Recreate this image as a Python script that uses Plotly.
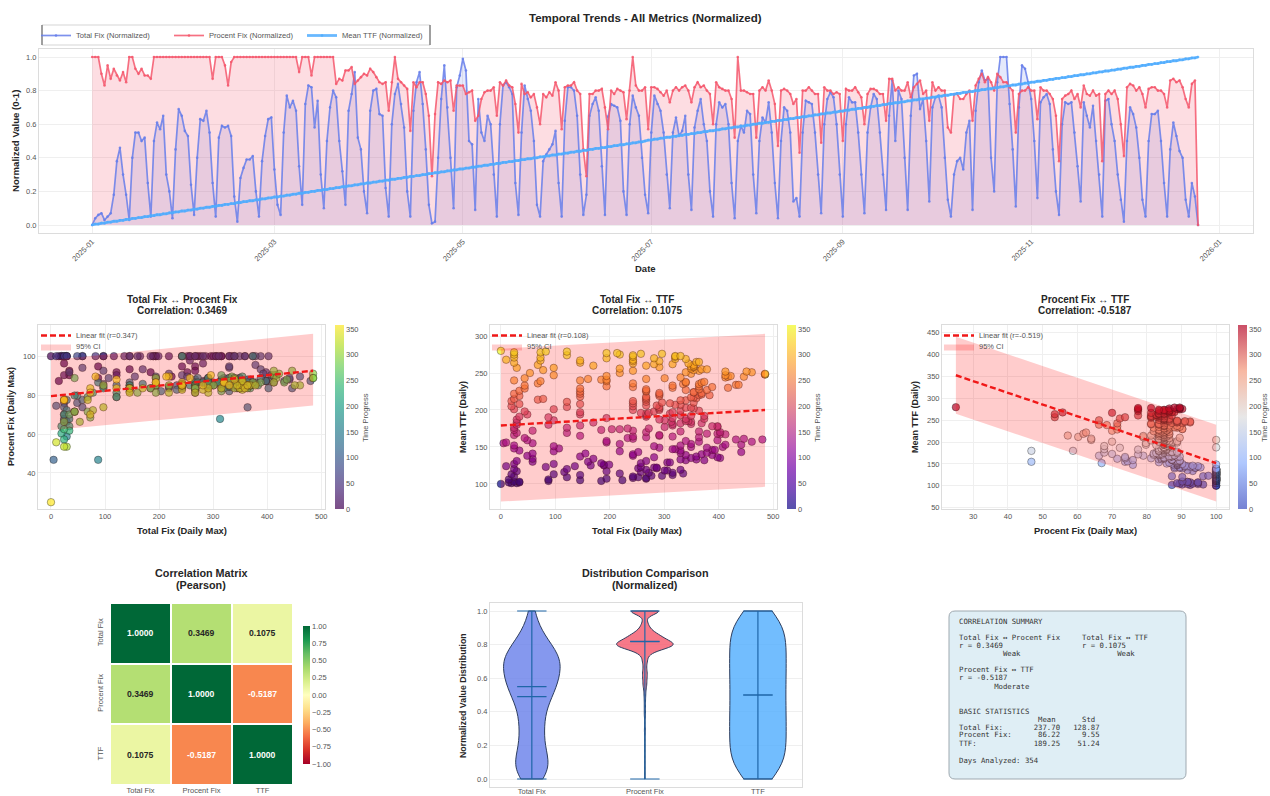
import numpy as np
import pandas as pd
import plotly.graph_objects as go
import plotly.express as px

W, H = 1270, 796

total_norm = [
 0,.04,.06,.07,.03,.05,.07,.18,.38,.46,.30,.18,.03,
 .40,.55,.55,.50,.52,.25,.05,
 .50,.61,.57,.65,.30,.20,.04,
 .45,.69,.65,.56,.53,.24,.06,
 .40,.63,.62,.68,.55,.25,.05,
 .52,.59,.58,.59,.53,.17,.02,
 .28,.34,.39,.39,.41,.20,.05,
 .38,.53,.63,.64,.33,.12,.06,
 .55,.77,.70,.74,.68,.35,.12,
 .72,.83,.82,.58,.74,.30,.10,
 .50,.70,.80,.76,.50,.32,.12,
 .68,.78,.91,.52,.45,.20,.07,
 .68,.80,.81,.66,.65,.22,.05,
 .60,.78,.84,.72,.58,.20,.05,
 .68,.85,.91,.72,.45,.12,.01,
 .02,.40,.75,.95,.70,.40,.10,
 .82,.89,.99,.92,.50,.48,.09,
 .75,.55,.50,.65,.60,.30,.05,
 .60,.83,.85,.82,.78,.25,.06,
 .55,.83,.75,.68,.50,.12,.05,
 .38,.42,.45,.48,.56,.25,.05,
 .62,.82,.82,.80,.65,.30,.06,
 .18,.65,.72,.76,.68,.35,.06,
 .645,.72,.71,.70,.62,.20,.06,
 .60,.77,.70,.65,.40,.18,.07,
 .55,.77,.72,.68,.55,.30,.10,
 .55,.64,.53,.56,.65,.30,.09,
 .58,.68,.75,.60,.50,.20,.05,
 .60,.73,.70,.72,.60,.25,.04,
 .50,.59,.55,.68,.66,.30,.07,
 .50,.64,.61,.73,.55,.25,.04,
 .50,.70,.68,.55,.14,.16,.05,
 .55,.74,.73,.72,.55,.30,.07,
 .60,.75,.79,.76,.60,.30,.05,
 .60,.76,.73,.73,.55,.30,.07,
 .55,.70,.78,.75,.55,.30,.09,
 .65,.86,.50,.80,.75,.40,.09,
 .65,.89,.90,.69,.75,.50,.14,
 .70,.76,.77,.70,.40,.15,.05,
 .30,.38,.40,.33,.55,.62,.09,
 .68,.85,.92,.86,.87,.40,.20,
 .85,1.0,1.0,1.0,.72,.45,.11,
 .70,.95,.93,.85,.75,.50,.16,
 .73,.76,.78,.72,.45,.20,.06,
 .60,.73,.72,.73,.55,.35,.14,
 .73,.65,.58,.71,.50,.30,.05,
 .74,.75,.60,.50,.30,.15,.02,
 .50,.70,.66,.58,.40,.15,.05,
 .50,.66,.66,.68,.50,.25,.05,
 .45,.61,.53,.44,.40,.15,.05,
 .25,.17,0,
]

percent_norm = [
 1,1,1,.90,.83,.95,.87,.93,.89,.86,.91,.85,1,1,.93,.90,.93,.89,.89,.87,
 1,1,1,1,1,1,1,1,1,1,1,1,1,1,1,1,1,1,1,
 .87,1,1,1,.95,.83,.97,
 1,1,1,1,1,1,1,1,1,1,1,1,1,1,1,1,1,1,1,1,1,
 .91,1,1,1,.89,1,
 1,1,1,1,1,1,
 .84,.87,.86,.92,.92,.94,.84,.86,.88,.90,.89,.93,.91,.88,.85,.84,.85,.68,
 .85,1.0,.87,.85,.83,.81,.56,
 .85,.82,.85,.85,.78,.65,.29,
 .66,.85,.84,.86,.85,.86,.68,
 .83,.83,.83,.78,.79,.80,.62,
 .65,.75,.79,.80,.80,.82,.65,
 .85,.83,.86,.83,.82,.72,.55,
 .84,.78,.79,.76,.78,.70,.60,
 .78,.76,.79,.77,.85,.80,.57,
 .82,.83,.83,.85,.80,.78,.45,
 .29,.78,.78,.80,.80,.81,.70,
 .57,.80,.78,.81,.80,.79,.63,
 .80,1.0,.83,.80,.80,.82,.57,
 .82,.82,.81,.79,.77,.80,.73,
 .80,.82,.80,.82,.83,.80,.73,
 .82,.85,.82,.83,.80,.78,.60,
 .85,.82,.81,.80,.80,.75,.52,
 1.0,.80,.80,.79,.78,.78,.52,
 .80,.82,.80,.86,.80,.72,.47,
 .80,.81,.80,.78,.72,.75,.43,
 .80,.80,.82,.80,.78,.78,.49,
 .82,.80,.80,.78,.79,.78,.50,
 .81,.80,.80,.82,.79,.76,.60,
 .78,.81,.81,.80,.78,.78,.62,
 .87,.87,.80,.82,.80,.80,.85,
 .76,.82,.84,.86,.78,.80,.62,
 .85,.80,.82,.80,.80,.58,.55,
 .78,.78,.75,.75,.78,.80,.62,
 .83,.87,.90,.85,.88,.85,.80,
 .90,.88,.85,.85,.82,.80,.55,
 .78,.80,.80,.82,.80,.80,.63,
 .82,.80,.80,.78,.75,.65,.38,
 .75,.77,.78,.80,.75,.78,.70,
 .83,.78,.77,.80,.77,.78,.38,
 .78,.80,.78,.80,.75,.60,.41,
 .82,.84,.83,.80,.82,.78,.70,
 .81,.82,.82,.80,.80,.78,.70,
 .86,.87,.85,.86,.82,.75,.70,
 .84,.86,0,
]

mean_ttf = [
 100,101,101,102,102,103,103,104,104,105,105,106,106,107,107,108,108,109,109,110,
 110,111,111,112,112,113,113,114,114,115,115,116,116,117,117,118,118,119,119,120,
 120,121,121,122,122,123,123,124,124,125,125,126,126,127,127,128,128,129,129,130,
 130,131,131,132,132,133,133,134,134,135,135,136,136,137,137,138,138,139,139,140,
 140,141,141,142,142,143,143,144,144,145,145,146,146,147,147,148,148,149,149,150,
 150,151,151,152,152,153,153,154,154,155,155,156,156,157,157,158,158,159,159,160,
 160,161,161,162,162,163,163,164,164,165,165,166,166,167,167,168,168,169,169,170,
 170,171,171,172,172,173,173,174,174,175,175,176,176,177,177,178,178,179,179,180,
 180,181,181,182,182,183,183,184,184,185,185,186,186,187,187,188,188,189,189,190,
 191,191,192,192,193,193,194,194,195,195,196,196,197,197,198,198,199,199,200,200,
 201,201,202,202,203,203,204,204,205,205,206,206,207,207,208,208,209,209,210,210,
 211,211,212,212,213,213,214,214,215,215,216,216,217,217,218,218,219,219,220,220,
 221,221,222,222,223,223,224,224,225,225,226,226,227,227,228,228,229,229,230,230,
 231,231,232,232,233,233,234,234,235,235,236,236,237,237,238,238,239,239,240,240,
 241,241,242,242,243,243,244,244,245,245,246,246,247,247,248,248,249,249,250,250,
 251,251,252,252,253,253,254,254,255,255,256,256,257,257,258,258,259,259,260,260,
 261,261,262,262,263,263,264,264,265,265,266,266,267,267,268,268,269,269,270,270,
 271,271,272,272,273,273,274,274,275,275,276,276,277,277,278,278,279,279,280,
]

if not (len(total_norm) == len(percent_norm) == len(mean_ttf)):
    raise SystemExit(f"{len(total_norm)} {len(percent_norm)} {len(mean_ttf)}")

TOTAL_MAX = 485
PCT_MIN = 25
start_date = "2025-01-01"
metrics = ["Total Fix", "Procent Fix", "TTF"]
corr = [[1.0, 0.3469, 0.1075], [0.3469, 1.0, -0.5187], [0.1075, -0.5187, 1.0]]

fit1_x, fit1_y, fit1_hi, fit1_lo = [0, 485], [79.5, 92.5], [98, 111.5], [62, 74.6]
fit2_x, fit2_y, fit2_hi, fit2_lo = [0, 485], [179, 200], [283, 303], [76, 96]
fit3_x, fit3_y, fit3_hi, fit3_lo = [25, 100], [353, 152], [441, 240], [265, 64]

tot_n = np.array(total_norm, float)
pct_n = np.array(percent_norm, float)
ttf = np.array(mean_ttf, float)
ttf_n = (ttf - ttf.min()) / (ttf.max() - ttf.min())
total_raw = tot_n * TOTAL_MAX
pct_raw = PCT_MIN + pct_n * (100 - PCT_MIN)
day = np.arange(len(ttf))
dates = pd.date_range(start_date, periods=len(ttf))

FONT = "Liberation Sans"
INK = "#262626"
TICK = "#555555"
GRID = "#efefef"
SPINE = "#dcdcdc"


def dx(a, b):
    return [a / W, b / W]


def dy(top, bottom):
    return [1 - bottom / H, 1 - top / H]


def rgba(c, a):
    c = c.strip()
    if c.startswith("#"):
        r, g, b = int(c[1:3], 16), int(c[3:5], 16), int(c[5:7], 16)
    else:
        r, g, b = [int(v) for v in c[c.index("(") + 1:-1].split(",")]
    return f"rgba({r},{g},{b},{a})"


def scale(colors, a=0.7):
    n = len(colors) - 1
    return [[i / n, rgba(c, a)] for i, c in enumerate(colors)]


VIRIDIS = scale(px.colors.sequential.Viridis)
PLASMA = scale(px.colors.sequential.Plasma)
COOLWARM = scale(["#3b4cc0", "#8db0fe", "#dddddd", "#f49a7b", "#b40426"])

fig = go.Figure()
ann = []


def txt(x, y, s, size=8, color=INK, angle=0, anchor="center", family=FONT):
    ann.append(dict(x=x / W, y=1 - y / H, xref="paper", yref="paper", text=s, showarrow=False,
                    xanchor=anchor, yanchor="middle", textangle=angle,
                    font=dict(size=size, color=color, family=family)))


def axis(domain, rng, **kw):
    d = dict(domain=domain, range=rng, showgrid=True, gridcolor=GRID, gridwidth=1, zeroline=False,
             showline=True, linecolor=SPINE, linewidth=1, mirror=True, ticks="",
             tickfont=dict(size=7.5, color=TICK, family=FONT))
    d.update(kw)
    return d


# ---- main panel
main_series = [
    ("Total Fix (Normalized)", tot_n, "#667eea", 0.17, 1.7),
    ("Procent Fix (Normalized)", pct_n, "#f5576c", 0.2, 1.7),
    ("Mean TTF (Normalized)", ttf_n, "#4facfe", 0, 2.8),
]
for name, y, col, fa, lw in main_series:
    if fa:
        fig.add_trace(go.Scatter(x=dates, y=y, mode="none", fill="tozeroy", fillcolor=rgba(col, fa),
                                 showlegend=False, xaxis="x", yaxis="y", hoverinfo="skip"))
for name, y, col, fa, lw in main_series:
    fig.add_trace(go.Scatter(x=dates, y=y, name=name, mode="lines+markers",
                             line=dict(color=rgba(col, 0.85), width=lw), marker=dict(color=rgba(col, 0.85), size=2.6),
                             xaxis="x", yaxis="y", legend="legend"))

# ---- scatter panels
panels = [
    (2, total_raw, pct_raw, VIRIDIS, fit1_x, fit1_y, fit1_hi, fit1_lo, "Linear fit (r=0.347)", "legend2", "legend5", 335, 365),
    (3, total_raw, ttf, PLASMA, fit2_x, fit2_y, fit2_hi, fit2_lo, "Linear fit (r=0.108)", "legend3", "legend6", 787, 817),
    (4, pct_raw, ttf, COOLWARM, fit3_x, fit3_y, fit3_hi, fit3_lo, "Linear fit (r=-0.519)", "legend4", "legend7", 1238, 1264),
]
for n, xs, ys, cs, fx, fy, fh, fl, lab, leg, leg_b, cbx, cbt in panels:
    fig.add_trace(go.Scatter(x=xs, y=ys, mode="markers", showlegend=False, xaxis=f"x{n}", yaxis=f"y{n}",
                             marker=dict(size=7.5, color=day, colorscale=cs, cmin=0, cmax=int(day.max()),
                                         line=dict(color="rgba(20,20,20,0.6)", width=0.6),
                                         colorbar=dict(x=cbx / W, xanchor="left", y=1 - 509 / H, yanchor="bottom",
                                                       lenmode="pixels", len=184, thicknessmode="pixels", thickness=9,
                                                       xpad=0, ypad=0, outlinewidth=0, ticks="", tick0=0, dtick=50,
                                                       tickfont=dict(size=7.5, color=TICK, family=FONT)))))
    fig.add_trace(go.Scatter(x=fx + fx[::-1], y=fh + fl[::-1], fill="toself", mode="lines",
                             line=dict(width=0, color="rgba(255,0,0,0)"), fillcolor="rgba(255,0,0,0.2)",
                             name="95% CI", xaxis=f"x{n}", yaxis=f"y{n}", legend=leg_b))
    fig.add_trace(go.Scatter(x=fx, y=fy, mode="lines", name=lab, xaxis=f"x{n}", yaxis=f"y{n}", legend=leg,
                             line=dict(color="#f01818", width=2.4, dash="6px,3px")))
    txt(cbt, 418, "Time Progress", size=7.5, color=TICK, angle=-90)

# ---- heatmap
fig.add_trace(go.Heatmap(z=corr, x=metrics, y=metrics, xaxis="x5", yaxis="y5", zmin=-1, zmax=1,
                         colorscale="RdYlGn", xgap=2, ygap=2,
                         colorbar=dict(x=303 / W, xanchor="left", y=1 - 764 / H, yanchor="bottom", lenmode="pixels",
                                       len=138, thicknessmode="pixels", thickness=7, xpad=0, ypad=0, outlinewidth=0,
                                       ticks="", tickmode="array", tickvals=[-1, -.75, -.5, -.25, 0, .25, .5, .75, 1],
                                       ticktext=["−1.00", "−0.75", "−0.50", "−0.25", "0.00", "0.25", "0.50", "0.75", "1.00"],
                                       tickfont=dict(size=7.5, color=TICK, family=FONT))))
for i, row in enumerate(corr):
    for j, v in enumerate(row):
        ann.append(dict(x=metrics[j], y=metrics[i], xref="x5", yref="y5", showarrow=False, text=f"<b>{v:.4f}</b>",
                        font=dict(size=8.6, family=FONT, color="white" if abs(v) > 0.5 else "#262626")))

# ---- violins
vio_pos = [1, 2, 3]
vio_cols = ["#667eea", "#f5576c", "#4facfe"]
vio_data = [tot_n, pct_n, ttf_n]
for p, c, d, m in zip(vio_pos, vio_cols, vio_data, metrics):
    fig.add_trace(go.Violin(x0=p, y=d, name=m, width=0.5, spanmode="hard", points=False, showlegend=False,
                            fillcolor=rgba(c, 0.8), line=dict(color="#2d3d5e", width=1), scalemode="width",
                            xaxis="x6", yaxis="y6", hoverinfo="skip"))
lx, ly = [], []
for p, d in zip(vio_pos, vio_data):
    lo, hi = float(d.min()), float(d.max())
    lx += [p, p, None, p - .13, p + .13, None, p - .13, p + .13, None]
    ly += [lo, hi, None, lo, lo, None, hi, hi, None]
    for v in (float(d.mean()), float(np.median(d))):
        lx += [p - .13, p + .13, None]
        ly += [v, v, None]
fig.add_trace(go.Scatter(x=lx, y=ly, mode="lines", line=dict(color="#1f66a8", width=1.2), showlegend=False,
                         xaxis="x6", yaxis="y6", hoverinfo="skip"))

# ---- text box
bx0, bx1, by0, by1, r = 949 / W, 1186 / W, 1 - 611 / H, 1 - 779 / H, 6
rx, ry = r / W, r / H
box_path = (f"M {bx0+rx} {by0} L {bx1-rx} {by0} Q {bx1} {by0} {bx1} {by0-ry} L {bx1} {by1+ry} Q {bx1} {by1} {bx1-rx} {by1} "
            f"L {bx0+rx} {by1} Q {bx0} {by1} {bx0} {by1+ry} L {bx0} {by0-ry} Q {bx0} {by0} {bx0+rx} {by0} Z")
summary = [
    (621, "CORRELATION SUMMARY"),
    (637, "Total Fix ↔ Procent Fix     Total Fix ↔ TTF"),
    (645, "r = 0.3469                  r = 0.1075"),
    (653, "          Weak                      Weak"),
    (669, "Procent Fix ↔ TTF"),
    (677, "r = -0.5187"),
    (686, "        Moderate"),
    (711, "BASIC STATISTICS"),
    (719, "                  Mean      Std"),
    (727, "Total Fix:       237.70   128.87"),
    (734, "Procent Fix:      86.22     9.55"),
    (743, "TTF:             189.25    51.24"),
    (760, "Days Analyzed: 354"),
]
for y, s in summary:
    txt(957, y, s.replace(" ", "\u00a0"), size=7.3, color="#333333", anchor="left", family="DejaVu Sans Mono")

# ---- titles
txt(645, 18, "<b>Temporal Trends - All Metrics (Normalized)</b>", size=11.5)
txt(645, 268, "<b>Date</b>", size=9.5)
txt(16, 141, "<b>Normalized Value (0-1)</b>", size=9.6, angle=-90)
for cx, top, xt, yt, yx in [
    (182, "Total Fix ↔ Procent Fix", "Total Fix (Daily Max)", "Procent Fix (Daily Max)", 11),
    (637, "Total Fix ↔ TTF", "Total Fix (Daily Max)", "Mean TTF (Daily)", 463),
    (1085, "Procent Fix ↔ TTF", "Procent Fix (Daily Max)", "Mean TTF (Daily)", 915),
]:
    corr_s = {182: "0.3469", 637: "0.1075", 1085: "-0.5187"}[cx]
    txt(cx, 299, f"<b>{top}</b>", size=10)
    txt(cx, 311, f"<b>Correlation: {corr_s}</b>", size=10)
    txt(cx, 530, f"<b>{xt}</b>", size=9.4)
    txt(yx, 417, f"<b>{yt}</b>", size=9, angle=-90)
txt(201, 573, "<b>Correlation Matrix</b>", size=10.8)
txt(201, 585, "<b>(Pearson)</b>", size=10.8)
txt(645, 573, "<b>Distribution Comparison</b>", size=10.8)
txt(645, 585, "<b>(Normalized)</b>", size=10.8)
txt(463, 695, "<b>Normalized Value Distribution</b>", size=8.8, angle=-90)

small_leg = dict(bgcolor="rgba(0,0,0,0)", borderwidth=0, font=dict(size=7.5, color=TICK, family=FONT),
                 xanchor="left", yanchor="top", itemwidth=30)
frame = dict(xref="paper", yref="paper", layer="above")
fx0, fx1, fy0, fy1 = 42 / W, 430 / W, 1 - 25 / H, 1 - 45 / H
shapes = [
    dict(type="path", xref="paper", yref="paper", path=box_path, fillcolor="#dfeef5",
         line=dict(color="#9fa9b0", width=1), layer="below"),
    dict(type="rect", x0=fx0, x1=fx1, y0=fy0, y1=fy1, line=dict(color="#d5d5d5", width=1), **frame),
    dict(type="line", x0=fx0, x1=fx0, y0=fy0, y1=fy1, line=dict(color="#555555", width=1), **frame),
    dict(type="line", x0=fx1, x1=fx1, y0=fy0, y1=fy1, line=dict(color="#555555", width=1), **frame),
]

date0, date1 = "2024-12-14 19:00", "2026-01-11 19:00"
fig.update_layout(
    width=W, height=H, margin=dict(l=0, r=0, t=0, b=0, autoexpand=False), autosize=False,
    paper_bgcolor="white", plot_bgcolor="white", showlegend=True,
    annotations=ann,
    shapes=shapes,
    legend=dict(orientation="h", x=36 / W, y=1 - 21 / H, xanchor="left", yanchor="top", bgcolor="rgba(0,0,0,0)",
                borderwidth=0, font=dict(size=7.6, color=TICK, family=FONT), itemwidth=30,
                entrywidthmode="pixels", entrywidth=88),
    legend2={**small_leg, "x": 36 / W, "y": 1 - 321 / H},
    legend5={**small_leg, "x": 36 / W, "y": 1 - 332 / H},
    legend3={**small_leg, "x": 487 / W, "y": 1 - 321 / H},
    legend6={**small_leg, "x": 487 / W, "y": 1 - 332 / H},
    legend4={**small_leg, "x": 939 / W, "y": 1 - 321 / H},
    legend7={**small_leg, "x": 939 / W, "y": 1 - 332 / H},
    xaxis=axis(dx(39, 1253), [date0, date1], type="date", tick0="2025-01-01", dtick="M2", tickformat="%Y-%m",
               tickangle=-45, anchor="y"),
    yaxis=axis(dy(48.6, 233.4), [-.05, 1.05], tick0=0, dtick=.2, tickformat=".1f", anchor="x"),
    xaxis2=axis(dx(38, 325), [-24, 507], tick0=0, dtick=100, anchor="y2"),
    yaxis2=axis(dy(325, 509), [21.5, 116], tickvals=[40, 60, 80, 100], anchor="x2"),
    xaxis3=axis(dx(490, 777), [-20, 507], tick0=0, dtick=100, anchor="y3"),
    yaxis3=axis(dy(325, 509), [66, 315], tickvals=[100, 150, 200, 250, 300], anchor="x3"),
    xaxis4=axis(dx(942, 1229), [21, 103.7], tick0=30, dtick=10, anchor="y4"),
    yaxis4=axis(dy(325, 509), [47, 468], tick0=50, dtick=50, anchor="x4"),
    xaxis5=dict(domain=dx(110, 293), anchor="y5", showgrid=False, zeroline=False, showline=False,
                tickfont=dict(size=7.5, color=TICK, family=FONT), ticks="", ticklabelstandoff=-1),
    yaxis5=dict(domain=dy(603, 785), anchor="x5", autorange="reversed", showgrid=False, zeroline=False, showline=False,
                tickangle=-90, tickfont=dict(size=7.5, color=TICK, family=FONT),
                ticks="outside", ticklen=3, tickcolor="white"),
    xaxis6=axis(dx(490, 802), [.63, 3.39], tickvals=vio_pos, ticktext=metrics, showgrid=False, anchor="y6",
                ticklabelstandoff=-3),
    yaxis6=axis(dy(602.6, 787.4), [-.05, 1.05], tick0=0, dtick=.2, tickformat=".1f", anchor="x6"),
)

fig.write_html("out.html", config={"displayModeBar": False},
               post_script="document.body.style.margin='0';document.body.style.overflow='hidden';")
